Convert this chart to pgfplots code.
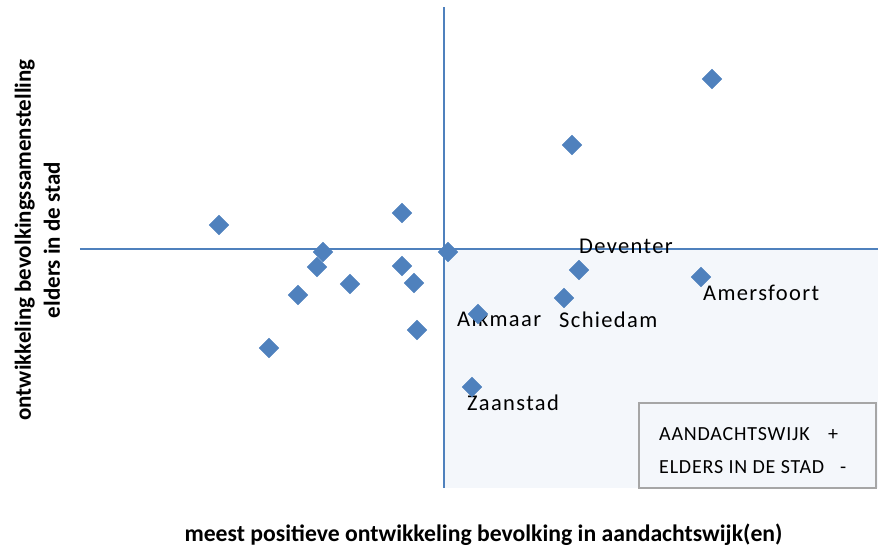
\documentclass[border=0pt]{standalone}
\usepackage{pgfplots}
\pgfplotsset{compat=1.18}
\usepackage{fontspec}
\setmainfont{Carlito}
\newfontfamily\lblfont[LetterSpace=6]{Carlito}
\newfontfamily\lgfont[LetterSpace=4]{Carlito}
\definecolor{c1}{HTML}{4F81BD}
\definecolor{shade}{HTML}{F4F7FB}
\definecolor{lgborder}{HTML}{A6A6A6}
\begin{document}
\begin{tikzpicture}[x=1pt,y=1pt]
\useasboundingbox (0,0) rectangle (878,547);
\begin{axis}[
  at={(80pt,59pt)}, anchor=south west,
  scale only axis, width=798pt, height=481pt,
  xmin=-364, xmax=434, ymin=-239, ymax=242,
  axis x line=none, axis y line=none, ticks=none, clip=false,
]
% shaded quadrant
\addplot[draw=none, fill=shade] coordinates {(0,-239) (434,-239) (434,0) (0,0)} -- cycle;
% cross lines
\addplot[c1, line width=1.2pt] coordinates {(-364,0) (434,0)};
\addplot[c1, line width=1.2pt] coordinates {(0,-239) (0,242)};
% legend box
\addplot[draw=lgborder, line width=1.1pt, fill=shade] coordinates {(195,-239) (432,-239) (432,-154) (195,-154)} -- cycle;
\node[anchor=base west, inner sep=0pt] at (axis cs:215,-191) {\lgfont\fontsize{20}{22}\selectfont AANDACHTSWIJK};
\node[anchor=base west, inner sep=0pt] at (axis cs:384,-191) {\fontsize{20}{22}\selectfont +};
\node[anchor=base west, inner sep=0pt] at (axis cs:215,-224) {\lgfont\fontsize{20}{22}\selectfont ELDERS IN DE STAD};
\node[anchor=base west, inner sep=0pt] at (axis cs:396,-224) {\fontsize{20}{22}\selectfont -};
% data points
\addplot[only marks, mark=square*, mark size=7pt, mark options={rotate=45, fill=c1, draw=c1}] coordinates {
(-225,24) (-42,36) (-121,-3) (-127,-18) (-42,-17) (-94,-35) (-30,-34)
(-146,-46) (-27,-81) (-175,-99) (4,-3) (268,170) (128,104)
(135,-21) (257,-28) (120,-49) (34,-65) (28,-138)
};
% data labels
\node[anchor=base west, inner sep=0pt] at (axis cs:135,-4) {\lblfont\fontsize{22.5}{26}\selectfont Deventer};
\node[anchor=base west, inner sep=0pt] at (axis cs:259,-51) {\lblfont\fontsize{22.5}{26}\selectfont Amersfoort};
\node[anchor=base west, inner sep=0pt] at (axis cs:13,-77) {\lblfont\fontsize{22.5}{26}\selectfont Alkmaar};
\node[anchor=base west, inner sep=0pt] at (axis cs:115,-78) {\lblfont\fontsize{22.5}{26}\selectfont Schiedam};
\node[anchor=base west, inner sep=0pt] at (axis cs:23,-161) {\lblfont\fontsize{22.5}{26}\selectfont Zaanstad};
% axis titles
\node[anchor=base, inner sep=0pt, font=\fontsize{23.7}{27}\selectfont\bfseries] at (rel axis cs:0.5056,-0.1102) {meest positieve ontwikkeling bevolking in aandachtswijk(en)};
\node[anchor=center, rotate=90, align=center, inner sep=0pt, font=\fontsize{23}{29}\selectfont\bfseries] at (rel axis cs:-0.0533,0.5156) {ontwikkeling bevolkingssamenstelling\\ elders in de stad};
\end{axis}
\end{tikzpicture}
\end{document}
